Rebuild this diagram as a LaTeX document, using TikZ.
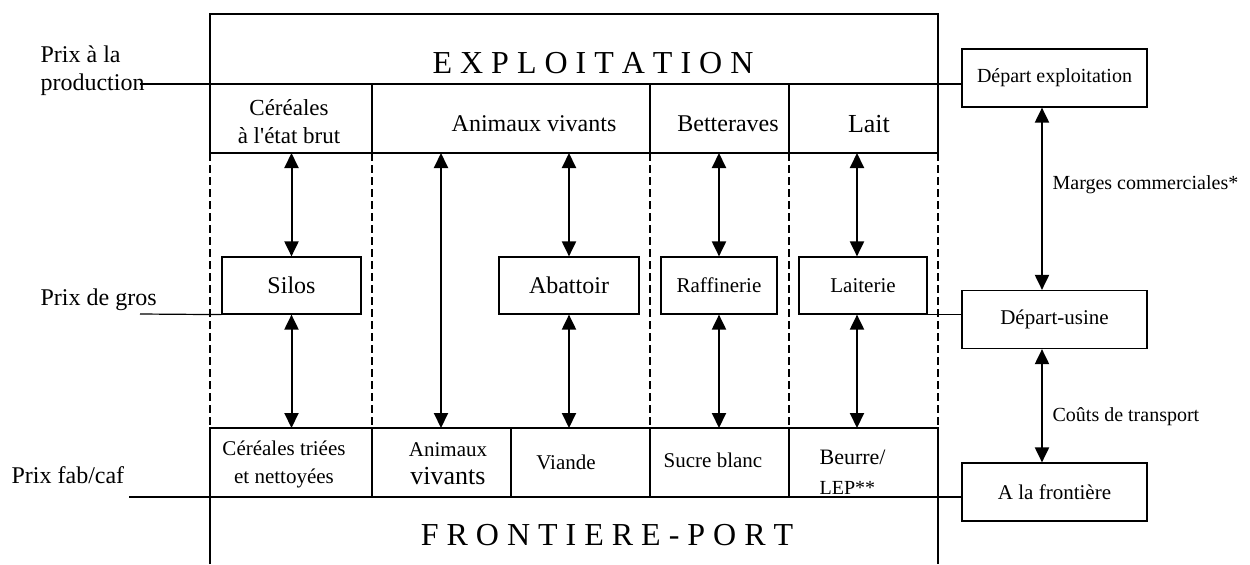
\documentclass[tikz,border=0pt]{standalone}
\usepackage{fontspec}
\setmainfont{Liberation Serif}
\usetikzlibrary{arrows.meta}
\newcommand{\fsz}[1]{\fontsize{#1}{14}\selectfont}

\begin{document}
\begin{tikzpicture}[x=0.5pt, y=-0.5pt, line width=0.6pt,
  lbl/.style={inner sep=0pt, align=center},
  box/.style={draw, minimum height=28.5pt, inner sep=0pt, font=\fsz{12}},
  rbox/.style={draw, minimum width=92.5pt, minimum height=29pt, inner sep=0pt, font=\fsz{10.5}},
  dbl/.style={{Triangle[length=7.5pt,width=7pt]}-{Triangle[length=7.5pt,width=7pt]}, line width=1pt},
  sep/.style={dash pattern=on 4pt off 2pt}]
\useasboundingbox (0,0) rectangle (1250,564);

% frame
\draw (210,153) -- (210,14) -- (938,14) -- (938,153) -- cycle;
\foreach \x in {372,650,789} \draw (\x,84) -- (\x,153);
\foreach \x in {210,372,650,789,938} \draw[sep] (\x,153) -- (\x,428);
\draw (210,564) -- (210,428) -- (938,428) -- (938,564);
\foreach \x in {372,511,650,789} \draw (\x,428) -- (\x,497);
\coordinate (toprow) at (0,153);
\coordinate (botrow) at (0,428);

% top and bottom blocks
\node[lbl, font=\fsz{16}] (exploit) at (593,63) {E X P L O I T A T I O N};
\node[lbl, font=\fsz{16}] (frontport) at (607,535) {F R O N T I E R E - P O R T};

\node[lbl, font=\fsz{11.5}] (cerbrut) at (289,122) {Céréales\\à l\textquotesingle état brut};
\node[lbl, font=\fsz{12}] (anivif) at (534,124) {Animaux vivants};
\node[lbl, font=\fsz{12}] (better) at (728,124) {Betteraves};
\node[lbl, font=\fsz{13}] (lait) at (869,124) {Lait};

\node[lbl, font=\fsz{10.5}] (certri) at (284,464) {Céréales triées\\et nettoyées};
\node[lbl, font=\fsz{10.5}] (anibas) at (448,464) {Animaux\\\fontsize{13}{14}\selectfont vivants};
\node[lbl, font=\fsz{10.5}] (viande) at (566,462) {Viande};
\node[lbl, font=\fsz{10.5}] (sucre) at (713,460) {Sucre blanc};
\node[lbl, anchor=west, align=left, font=\fsz{11}] (beurre) at (819,472)
  {Beurre/\\[1pt]{\fontsize{10}{12}\selectfont LEP**}};

% processing
\node[box, minimum width=69.5pt] (silos) at (291.5,285.5) {Silos};
\node[box, minimum width=70pt] (abattoir) at (569,285.5) {Abattoir};
\node[box, minimum width=58pt, font=\fsz{10.5}] (raffin) at (719,285.5) {Raffinerie};
\node[box, minimum width=64pt, font=\fsz{10.5}] (laiterie) at (863,285.5) {Laiterie\hspace{8pt}};

\foreach \n in {silos,abattoir,raffin} {
  \draw[dbl] (\n.north |- toprow) -- (\n.north);
  \draw[dbl] (\n.south) -- (\n.south |- botrow);
}
\coordinate (lt) at ([xshift=-3pt]laiterie.north);
\coordinate (lb) at ([xshift=-3pt]laiterie.south);
\draw[dbl] (lt |- toprow) -- (lt);
\draw[dbl] (lb) -- (lb |- botrow);
\coordinate (anim) at (441,0);
\draw[dbl] (anim |- toprow) -- (anim |- botrow);

% right side
\node[rbox, font=\fsz{10}] (depexp) at (1054.5,78) {Départ exploitation};
\node[rbox] (depusine) at (1054.5,319.5) {Départ-usine\hspace{11.5pt}};
\node[rbox] (frontiere) at (1054.5,492) {A la frontière\hspace{14pt}};
\coordinate (ra) at (1042,0);
\draw[dbl] (ra |- depexp.south) -- (ra |- depusine.north);
\draw[dbl] (ra |- depusine.south) -- (ra |- frontiere.north);
\node[lbl, anchor=west, font=\fsz{10}] (marges) at (1052,185) {Marges commerciales*};
\node[lbl, anchor=west, font=\fsz{10}] (couts) at (1052,417) {Coûts de transport};

% price levels
\node[lbl, anchor=west, align=left, font=\fsz{12}] (prodlbl) at (40,71) {Prix à la\\production};
\node[lbl, anchor=west, font=\fsz{12}] (groslbl) at (40,300) {Prix de gros};
\node[lbl, anchor=west, font=\fsz{12}] (fablbl) at (11,475) {Prix fab/caf};
\coordinate (prod) at (140,84);
\coordinate (gros) at (140,314);
\coordinate (fab) at (129,497);
\draw (prod) -- (depexp.west |- prod);
\draw (gros) -- (silos.south west);
\draw (laiterie.south east) -- (depusine.west |- laiterie.south east);
\draw (fab) -- (frontiere.west |- fab);
\end{tikzpicture}
\end{document}
